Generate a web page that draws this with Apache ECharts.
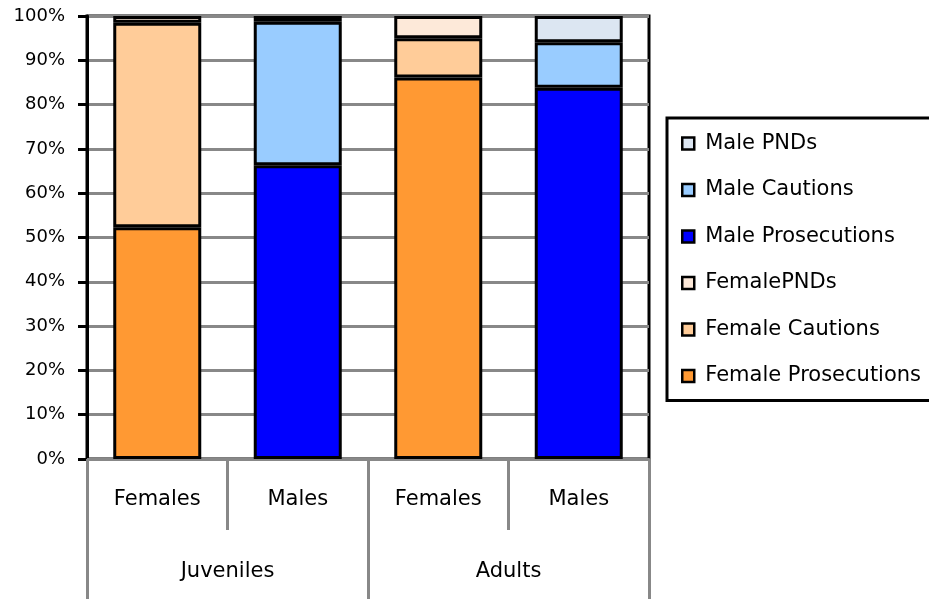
<!DOCTYPE html>
<html>
<head>
<meta charset="utf-8">
<script src="https://cdn.jsdelivr.net/npm/echarts@6/dist/echarts.min.js"></script>
<style>
html, body { margin: 0; padding: 0; background: #fff; }
#chart { width: 929px; height: 599px; }
</style>
</head>
<body>
<div id="chart"></div>
<script>
var categories = ['Females', 'Males', 'Females', 'Males'];
var groups = ['Juveniles', 'Adults'];

var femaleProsecutions = [52.3, '-', 86.1, '-'];
var femaleCautions = [46.2, '-', 8.9, '-'];
var femalePNDs = [1.5, '-', 5.0, '-'];
var maleProsecutions = ['-', 66.3, '-', 83.8];
var maleCautions = ['-', 32.4, '-', 10.3];
var malePNDs = ['-', 1.3, '-', 5.9];

var legendOrder = ['Male PNDs', 'Male Cautions', 'Male Prosecutions', 'FemalePNDs', 'Female Cautions', 'Female Prosecutions'];

var font = 'DejaVu Sans';
var dom = document.getElementById('chart');
var chart = echarts.init(dom);

function bar(name, data, color) {
  return {
    name: name,
    type: 'bar',
    stack: 'all',
    xAxisIndex: 0,
    barWidth: 88,
    data: data,
    itemStyle: { color: color, borderColor: '#000', borderWidth: 3 }
  };
}

var option = {
  animation: false,
  grid: {
    left: 87, right: 280, top: 16, bottom: 140,
    show: true, borderColor: '#000', borderWidth: 3
  },
  legend: {
    data: legendOrder,
    orient: 'vertical',
    left: 667, top: 118,
    padding: [15, 20, 14, 14],
    itemGap: 25.5,
    itemWidth: 12, itemHeight: 12,
    icon: 'rect',
    itemStyle: { borderColor: '#000', borderWidth: 2.5 },
    borderColor: '#000', borderWidth: 3,
    textStyle: { fontFamily: font, fontSize: 21, color: '#000', padding: [0, 0, 0, 6] }
  },
  xAxis: [
    {
      type: 'category',
      data: categories,
      axisLine: { show: true, lineStyle: { color: '#888', width: 2 } },
      axisTick: { show: true, interval: 0, length: 71, lineStyle: { color: '#888', width: 3 } },
      axisLabel: { interval: 0, margin: 41, verticalAlign: 'middle', fontFamily: font, fontSize: 21, color: '#000' }
    },
    {
      type: 'category',
      data: groups,
      position: 'bottom',
      axisLine: { show: false },
      axisTick: { show: true, interval: 0, length: 140, lineStyle: { color: '#888', width: 3 } },
      axisLabel: { interval: 0, margin: 113, verticalAlign: 'middle', fontFamily: font, fontSize: 21, color: '#000' }
    }
  ],
  yAxis: {
    type: 'value',
    min: 0, max: 100, interval: 10,
    axisLine: { show: true, lineStyle: { color: '#000', width: 3 } },
    axisTick: { show: true, length: 9, lineStyle: { color: '#000', width: 3 } },
    axisLabel: { formatter: '{value}%', margin: 22, fontFamily: font, fontSize: 18, color: '#000' },
    splitLine: { lineStyle: { color: '#888', width: 3 } }
  },
  series: [
    bar('Female Prosecutions', femaleProsecutions, '#FF9933'),
    bar('Female Cautions', femaleCautions, '#FFCC99'),
    bar('FemalePNDs', femalePNDs, '#FDE9D9'),
    bar('Male Prosecutions', maleProsecutions, '#0000FF'),
    bar('Male Cautions', maleCautions, '#99CCFF'),
    bar('Male PNDs', malePNDs, '#DCE6F2')
  ]
};

option && chart.setOption(option);
</script>
</body>
</html>
